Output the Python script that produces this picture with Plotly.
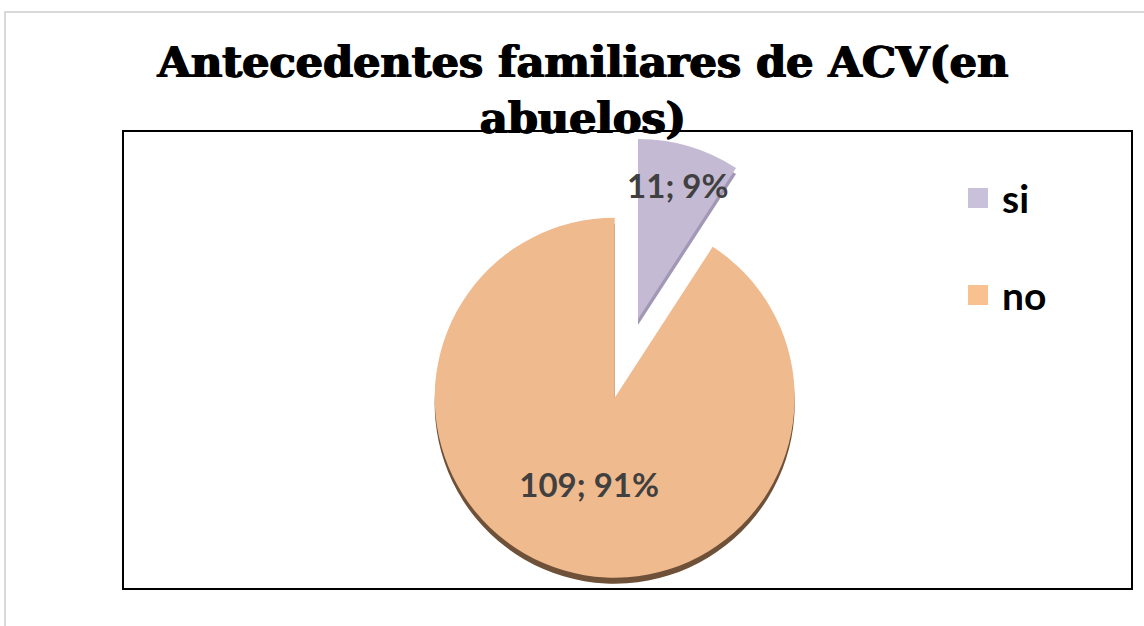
import plotly.graph_objects as go

# ---- data ----
labels = ["si", "no"]
values = [11, 109]
colors = ["#C4BAD3", "#EFBA8E"]
legend_colors = ["#C9C0DA", "#F9C090"]
shadow_colors = ["#A297B5", "#6E5138"]
title_text = "Antecedentes familiares de ACV(en<br>abuelos)"

W, H = 1144, 626

def px_x(x):
    return x / W

def px_y(y):
    return 1 - y / H

# pie geometry (pixels)
r = 180
pull_no = 0.456
cx, cy = 638, 319          # apex of the (unpulled) 'si' slice
half = r * (1 + pull_no)
dom_x = [px_x(cx - half), px_x(cx + half)]
dom_y = [px_y(cy + half), px_y(cy - half)]
shadow_dy = 6
dom_y_sh = [px_y(cy + half + shadow_dy), px_y(cy - half + shadow_dy)]

fig = go.Figure()

# 3D-edge shadow
fig.add_trace(go.Pie(
    labels=labels, values=values, sort=False, direction="clockwise", rotation=0,
    pull=[0, pull_no], marker=dict(colors=shadow_colors, line=dict(width=0)),
    textinfo="none", hoverinfo="skip", showlegend=False,
    domain=dict(x=dom_x, y=dom_y_sh),
))

fig.add_trace(go.Pie(
    labels=labels, values=values, sort=False, direction="clockwise", rotation=0,
    pull=[0, pull_no], marker=dict(colors=colors, line=dict(width=0)),
    texttemplate="%{value}; %{percent:.0%}", textposition="inside",
    insidetextorientation="horizontal",
    textfont=dict(family="Lato", size=33, color="#404040", weight="bold"),
    showlegend=False,
    domain=dict(x=dom_x, y=dom_y),
))

shapes = [
    # outer chart border
    dict(type="rect", xref="paper", yref="paper",
         x0=px_x(5), x1=px_x(1150), y0=px_y(640), y1=px_y(12),
         line=dict(color="#D9D9D9", width=2), layer="below"),
    # plot area border
    dict(type="rect", xref="paper", yref="paper",
         x0=px_x(123), x1=px_x(1132), y0=px_y(589), y1=px_y(131),
         line=dict(color="#000000", width=2), layer="below"),
]

annotations = []
leg_y = [198, 295]
for lab, col, yy in zip(labels, legend_colors, leg_y):
    shapes.append(dict(type="rect", xref="paper", yref="paper",
                       x0=px_x(968), x1=px_x(988), y0=px_y(yy + 10), y1=px_y(yy - 10),
                       line=dict(width=0), fillcolor=col))
    annotations.append(dict(text=lab, xref="paper", yref="paper",
                            x=px_x(1000), y=px_y(yy), xanchor="left", yanchor="middle",
                            showarrow=False,
                            font=dict(family="Lato", size=39, color="#000000", weight="bold")))

fig.update_layout(
    width=W, height=H,
    margin=dict(l=0, r=0, t=0, b=0),
    paper_bgcolor="white", plot_bgcolor="white",
    title=dict(text=title_text, x=px_x(583), xanchor="center", xref="paper",
               y=px_y(77), yanchor="top", yref="container",
               font=dict(family="DejaVu Serif", size=43, color="#000000", weight="bold",
                         shadow="0.9px 0 0 #000, -0.9px 0 0 #000")),
    uniformtext=dict(minsize=33, mode="show"),
    shapes=shapes,
    annotations=annotations,
)

fig.write_html("out.html", config={"displayModeBar": False},
               post_script="document.body.style.margin='0px';")
